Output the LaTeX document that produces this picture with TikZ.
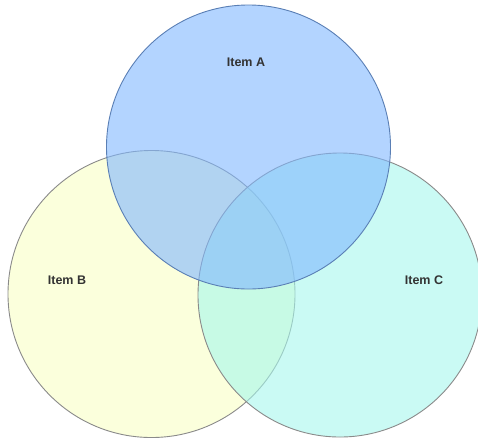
\documentclass[tikz,border=0pt]{standalone}
\usepackage{fontspec}
\setmainfont{Liberation Sans}
\usetikzlibrary{positioning}
\definecolor{setblue}{HTML}{80B7FF}
\definecolor{setyellow}{HTML}{FAFFD0}
\definecolor{setteal}{HTML}{A6F7EC}
\definecolor{edgeblue}{HTML}{5A7FB5}
\definecolor{edgegray}{HTML}{8A8A8A}
\definecolor{labelgray}{HTML}{333333}

\begin{document}
\begin{tikzpicture}[
  x=1pt, y=-1pt,
  venn/.style={
    circle, inner sep=0pt, minimum size=#1, line width=0.9pt
  },
  itemlabel/.style={
    font=\fontsize{12.5}{14}\selectfont\bfseries, text=labelgray
  },
]
\useasboundingbox (0,0) rectangle (478,440);

% Item B (left)
\node[venn=287pt, draw=edgegray, fill=setyellow, fill opacity=0.75]
  (setB) at (151.5,294) {};

% Item C (right)
\node[venn=284pt, draw=edgegray, fill=setteal, fill opacity=0.6]
  (setC) at (340,295) {};

% Item A (top)
\node[venn=284pt, draw=edgeblue, fill=setblue, fill opacity=0.6]
  (setA) at (248.5,147) {};

% Labels
\node[itemlabel] (labA) at (246,62) {Item A};
\node[itemlabel] (labB) at (67,280) {Item B};
\node[itemlabel] (labC) at (424,280) {Item C};

\end{tikzpicture}
\end{document}
